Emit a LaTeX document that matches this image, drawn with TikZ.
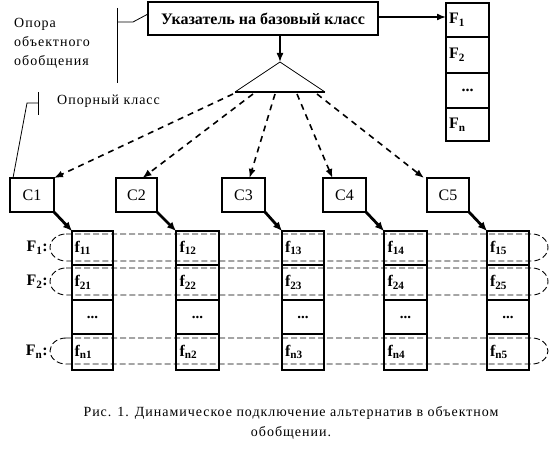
\documentclass[tikz,border=0pt]{standalone}
\usepackage{fontspec}
\setmainfont{Liberation Serif}
\newfontfamily\wide[LetterSpace=7]{Liberation Serif}
\usetikzlibrary{arrows.meta,calc}
\begin{document}
\begin{tikzpicture}[x=1pt,y=-1pt,
  thickbox/.style={draw,line width=2.6pt,inner sep=0pt,outer sep=0pt},
  cbox/.style={thickbox,minimum width=43pt,minimum height=34pt,font=\fontsize{16}{16}\selectfont},
  cell/.style={thickbox,minimum width=42pt,font=\fontsize{16}{16}\selectfont\bfseries,text width=36pt,align=left},
  dotcell/.style={thickbox,minimum width=42pt,font=\fontsize{15}{15}\selectfont\bfseries,align=center},
  fcell/.style={thickbox,minimum width=43pt,minimum height=35pt,font=\fontsize{16}{16}\selectfont\bfseries,text width=37pt,align=left},
  note/.style={font=\fontsize{14}{19}\selectfont\wide,align=left,anchor=west,inner sep=0pt},
  thinline/.style={line width=0.8pt},
  solidarrow/.style={line width=1.6pt,-{Latex[length=9pt,width=7pt]}},
  boldarrow/.style={line width=2.8pt,-{Latex[length=9pt,width=8pt]}},
  dasharrow/.style={line width=1.6pt,dash pattern=on 6pt off 5pt,-{Latex[length=9pt,width=7pt]}},
  rowdash/.style={line width=0.9pt,dash pattern=on 6pt off 3pt},
  flabel/.style={font=\fontsize{16}{16}\selectfont\bfseries,anchor=east,inner sep=0pt}
]
\useasboundingbox (0,0) rectangle (549,452);

% pointer box
\node[thickbox,minimum width=230pt,minimum height=33pt,font=\fontsize{16}{16}\selectfont\bfseries] (ptr) at (263,18.5) {Указатель на базовый класс};

% F list
\node[fcell,minimum height=34pt] (F1) at (467.5,20) {F\textsubscript{1}};
\node[fcell,minimum height=36pt] (F2) at (467.5,55) {F\textsubscript{2}};
\node[fcell,align=center] (Fd) at (467.5,90.5) {...};
\node[fcell,minimum height=33pt] (Fn) at (467.5,124.5) {F\textsubscript{n}};
\draw[solidarrow] (ptr.east |- 0,17) -- (F1.west |- 0,17);

% triangle
\coordinate (apex) at (280,62);
\coordinate (bl) at (235,92);
\coordinate (br) at (325,92);
\draw[thinline] (bl) -- (apex) -- (br);
\draw[line width=2.6pt] (bl) -- (br);
\draw[solidarrow] (ptr.south -| apex) -- (apex);

% class boxes
\node[cbox,minimum width=44pt] (C1) at (32,195) {C1};
\node[cbox,minimum width=41pt] (C2) at (136.5,195) {C2};
\node[cbox] (C3) at (243.5,195) {C3};
\node[cbox] (C4) at (344.5,195) {C4};
\node[cbox,minimum width=42pt] (C5) at (448,195) {C5};

% dashed arrows from triangle
\coordinate (t1) at (233,94);
\coordinate (t2) at (253,94);
\coordinate (t3) at (275,94);
\coordinate (t4) at (297,94);
\coordinate (t5) at (317,94);
\draw[dasharrow] (t1) -- (C1.north east);
\draw[dasharrow] (t2) -- ($(C2.north)+(6,0)$);
\draw[dasharrow] (t3) -- ($(C3.north)+(6,0)$);
\draw[dasharrow] (t4) -- ($(C4.north)+(-12,0)$);
\draw[dasharrow] (t5) -- ($(C5.north west)+(-3,0)$);

% columns
\foreach \i/\x/\w in {1/92.5/41,2/197.5/43,3/303/42,4/405.5/43,5/508/42}{
  \node[cell,minimum width=\w pt,minimum height=34pt] (c\i r1) at (\x,248) {f\textsubscript{1\i}};
  \node[cell,minimum width=\w pt,minimum height=35pt] (c\i r2) at (\x,282.5) {f\textsubscript{2\i}};
  \node[dotcell,minimum width=\w pt,minimum height=34pt] (c\i r3) at (\x,317) {...};
  \node[cell,minimum width=\w pt,minimum height=36pt] (c\i r4) at (\x,352) {f\textsubscript{n\i}};
}
\draw[boldarrow] (C1.south east) -- (c1r1.north west);
\draw[boldarrow] (C2.south east) -- (c2r1.north west);
\draw[boldarrow] (C3.south east) -- (c3r1.north west);
\draw[boldarrow] (C4.south east) -- (c4r1.north west);
\draw[boldarrow] (C5.south east) -- (c5r1.north west);

% row groupings
\foreach \yt/\yb in {234/261,268/295,338/364}{
  \draw[rowdash] (66,\yt) -- (532,\yt)
    arc[start angle=-90,end angle=90,x radius=16,y radius=(\yb-\yt)/2]
    -- (66,\yb)
    arc[start angle=90,end angle=270,x radius=16,y radius=(\yb-\yt)/2];
}
\node[flabel] (L1) at (48,248) {F\textsubscript{1}:};
\node[flabel] (L2) at (48,282) {F\textsubscript{2}:};
\node[flabel] (Ln) at (48,352) {F\textsubscript{n}:};

% annotations
\node[note] (opora) at (14,43) {Опора\\объектного\\обобщения};
\coordinate (b1top) at (117,8);
\coordinate (b1bot) at (117,83);
\coordinate (b1mid) at (117,22);
\coordinate (b1end) at (133,22);
\draw[thinline] (b1top) -- (b1bot);
\draw[thinline] (b1mid) -- (b1end) -- (ptr.west |- 0,14);

\node[note] (oklass) at (57,101) {Опорный класс};
\coordinate (b2top) at (38,92);
\coordinate (b2bot) at (38,115);
\coordinate (b2mid) at (38,103);
\coordinate (b2end) at (27,103);
\draw[thinline] (b2top) -- (b2bot);
\draw[thinline] (b2mid) -- (b2end) -- ($(C1.north west)+(3,0)$);

% caption
\node[font=\fontsize{14}{20}\selectfont\wide,align=center,inner sep=0pt] (cap) at (291,423) {Рис. 1. Динамическое подключение альтернатив в объектном\\обобщении.};
\end{tikzpicture}
\end{document}
